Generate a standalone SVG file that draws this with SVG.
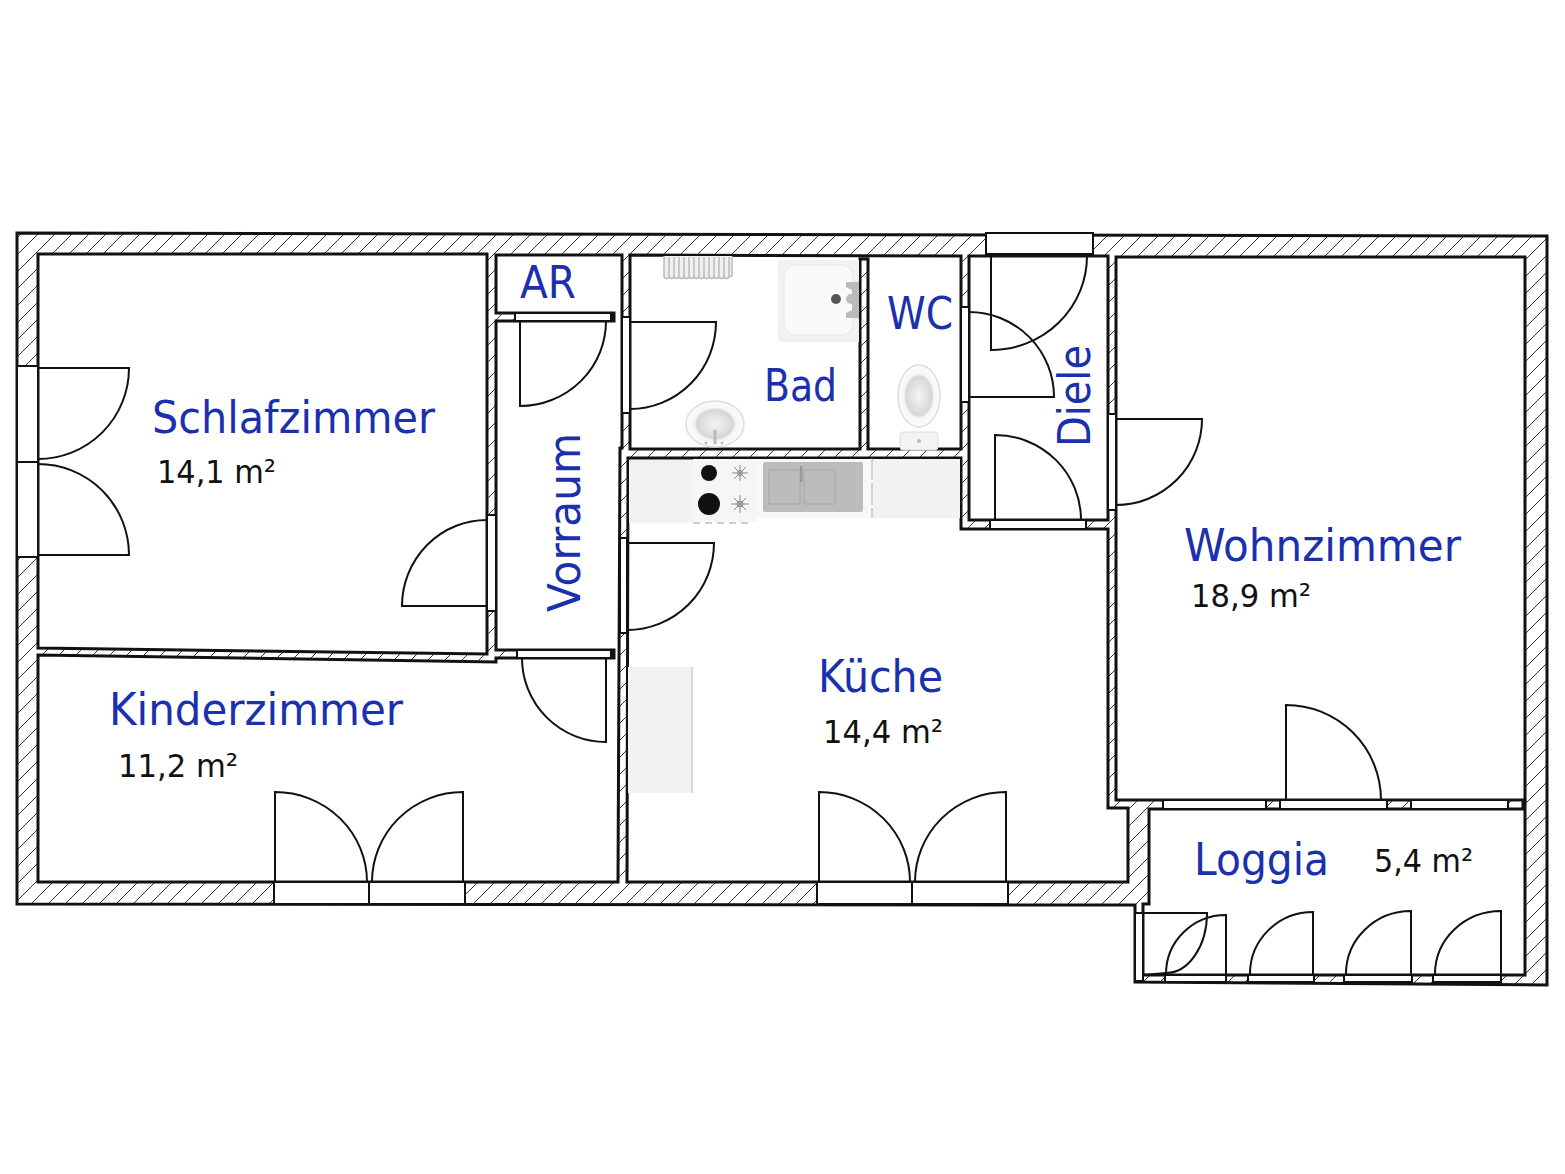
<svg xmlns="http://www.w3.org/2000/svg" width="1565" height="1174" viewBox="0 0 1565 1174">
<style>
.room{fill:#fff;stroke:#111;stroke-width:3;stroke-linejoin:miter}
.open{fill:#fff;stroke:#111;stroke-width:2}
.door{fill:none;stroke:#111;stroke-width:2}
.name{font-family:"DejaVu Sans",sans-serif;font-size:44px;fill:#1a30ad}
.area{font-family:"DejaVu Sans",sans-serif;font-size:32px;fill:#111}
.unit{fill:#f2f2f2}
.fix{fill:#f0f0f0;stroke:#bbb;stroke-width:1.5}
</style>
<defs>
<pattern id="hatch" patternUnits="userSpaceOnUse" width="17" height="17">
<rect width="17" height="17" fill="#fff"/>
<path d="M-2 19L19-2M-2 2L2-2M15 19L19 15" stroke="#333" stroke-width="1" fill="none"/>
</pattern>
<radialGradient id="bowl"><stop offset="0" stop-color="#f4f4f4"/><stop offset=".4" stop-color="#e2e2e2"/><stop offset=".62" stop-color="#d6d6d6"/><stop offset=".72" stop-color="#f6f6f6"/><stop offset="1" stop-color="#fbfbfb"/></radialGradient>
</defs>
<rect width="1565" height="1174" fill="#fff"/>

<g id="walls">
<path d="M17 233L1547 236V985L1135 982V905L17 904Z" fill="url(#hatch)" stroke="#111" stroke-width="3"/>
</g>

<g id="rooms">
<path id="schlafzimmer" class="room" d="M38 254H487V654L38 648Z"/>
<path id="kinder-vorraum-ar" class="room" d="M496 255H622V448H620L618 882H38V655L496 662V658H614V650H496V321H614V313H496Z"/>
<path id="bad-wc" class="room" d="M630 255L961 256V449H868V259H860V449H630Z"/>
<path id="diele" class="room" d="M969 256H1108V520H969Z"/>
<path id="wohnzimmer" class="room" d="M1116 257H1525V800H1116Z"/>
<path id="kueche" class="room" d="M628 458H961V529H1108V808H1128V882H627Z"/>
<path id="loggia" class="room" d="M1149 809H1523V801H1525V975H1143V904H1149Z"/>
</g>

<g id="openings">
<rect class="open" x="17" y="366" width="21" height="96"/>
<rect class="open" x="17" y="462" width="21" height="95"/>
<rect class="open" x="274" y="882" width="95" height="22"/>
<rect class="open" x="369" y="882" width="96" height="22"/>
<rect class="open" x="817" y="882" width="95" height="22"/>
<rect class="open" x="912" y="882" width="96" height="22"/>
<rect class="open" x="986" y="233" width="107" height="21"/>
<path d="M990 255.500H1088" stroke="#111" stroke-width="3"/>
<rect class="open" x="487" y="515" width="9" height="96"/>
<rect class="open" x="515" y="313" width="96" height="8"/>
<rect x="611" y="313" width="3" height="8" fill="#111"/>
<rect class="open" x="517" y="650" width="94" height="8"/>
<rect x="611" y="650" width="3" height="8" fill="#111"/>
<rect class="open" x="622" y="317" width="8" height="96"/>
<rect class="open" x="620" y="538" width="7" height="95"/>
<rect class="open" x="961" y="307" width="8" height="95"/>
<rect class="open" x="1108" y="414" width="8" height="96"/>
<rect class="open" x="990" y="520" width="96" height="9"/>
<rect class="open" x="1163" y="800" width="103" height="9"/>
<rect class="open" x="1280" y="800" width="107" height="9"/>
<rect class="open" x="1411" y="800" width="97" height="9"/>
<rect class="open" x="1165" y="975" width="61" height="7"/>
<rect class="open" x="1248" y="975" width="66" height="7"/>
<rect class="open" x="1344" y="975" width="68" height="7"/>
<rect class="open" x="1433" y="975" width="68" height="7"/>
<rect class="open" x="1135" y="913" width="8" height="68"/>
</g>

<g id="fixtures">
<path id="radiator" class="fix" d="M664 256V276a2.500 2.500 0 0 0 5 0a2.500 2.500 0 0 0 5 0a2.500 2.500 0 0 0 5 0a2.500 2.500 0 0 0 5 0a2.500 2.500 0 0 0 5 0a2.500 2.500 0 0 0 5 0a2.500 2.500 0 0 0 5 0a2.500 2.500 0 0 0 5 0a2.500 2.500 0 0 0 5 0a2.500 2.500 0 0 0 5 0a2.500 2.500 0 0 0 5 0a2.500 2.500 0 0 0 5 0a2.500 2.500 0 0 0 5 0a2.500 2.500 0 0 0 3 0V256M669 257V276M674 257V276M679 257V276M684 257V276M689 257V276M694 257V276M699 257V276M704 257V276M709 257V276M714 257V276M719 257V276M724 257V276M729 257V276"/>
<g id="shower">
<rect class="unit" x="778" y="260" width="81" height="82"/>
<rect x="784" y="265" width="69" height="70" rx="11" fill="#fafafa" stroke="#e6e6e6"/>
<path d="M846 282H859V318H846V313L852 310V290L846 287Z" fill="#bbb"/>
<circle cx="851" cy="299" r="5" fill="#bbb"/>
<circle cx="836" cy="299" r="5" fill="#555"/>
</g>
<g id="sink">
<ellipse cx="715" cy="424" rx="29" ry="23" fill="url(#bowl)" stroke="#ddd" stroke-width="1.500"/>
<rect x="713.500" y="430" width="3" height="14" fill="#bbb"/>
<circle cx="706" cy="443" r="1.500" fill="#bbb"/><circle cx="722" cy="443" r="1.500" fill="#bbb"/>
</g>
<g id="toilet">
<ellipse cx="919" cy="396" rx="21" ry="31" fill="url(#bowl)" stroke="#ddd" stroke-width="1.500"/>
<rect x="900" y="432" width="38" height="18" rx="3" fill="#f3f3f3" stroke="#ddd"/>
<circle cx="919" cy="441" r="2" fill="#bbb"/>
</g>
<g id="kitchen">
<rect class="unit" x="629" y="460" width="64" height="63"/>
<rect x="693" y="459" width="64" height="63" fill="#f6f6f6"/>
<path d="M693 523H752" stroke="#999" stroke-dasharray="7 5" fill="none"/>
<circle cx="709" cy="473" r="8" fill="#111"/>
<circle cx="709" cy="504" r="11" fill="#111"/>
<g stroke="#888" fill="none"><circle cx="740" cy="473" r="2.500"/><path d="M732 473H748M740 465V481M734 467L746 479M746 467L734 479"/><circle cx="740" cy="504" r="3"/><path d="M731 504H749M740 495V513M734 498L746 510M746 498L734 510"/></g>
<rect x="757" y="459" width="115" height="59" fill="#f8f8f8"/>
<rect x="763" y="462" width="100" height="50" rx="2" fill="#bcbcbc"/>
<path d="M769 470H800V504H769ZM804 470H835V504H804Z" fill="none" stroke="#a6a6a6"/>
<rect x="800" y="466" width="2.500" height="16" fill="#999"/>
<path d="M872 458V518" stroke="#aaa" stroke-dasharray="22 3"/>
<rect class="unit" x="873" y="459" width="87" height="59"/>
</g>
<g id="table">
<rect class="unit" x="628" y="667" width="64" height="126"/>
<path d="M692 667V793" stroke="#ccc" stroke-width="1.500"/>
</g>
</g>

<g id="doors">
<path class="door" d="M38 368H129A91 91 0 0 1 38 459"/>
<path class="door" d="M38 555H129A91 91 0 0 0 38 464"/>
<path class="door" d="M487 606H402A85 86 0 0 1 487 520"/>
<path class="door" d="M520 321V406A86 85 0 0 0 606 321"/>
<path class="door" d="M630 322H716A86 87 0 0 1 630 409"/>
<path class="door" d="M627 543H714A87 87 0 0 1 627 630"/>
<path class="door" d="M606 658V742A84 84 0 0 1 522 658"/>
<path class="door" d="M275 882V792A92 90 0 0 1 367 882"/>
<path class="door" d="M463 882V792A91 90 0 0 0 372 882"/>
<path class="door" d="M819 882V792A91 90 0 0 1 910 882"/>
<path class="door" d="M1006 882V792A91 90 0 0 0 915 882"/>
<path class="door" d="M991 256V350A96 94 0 0 0 1087 256"/>
<path class="door" d="M969 397H1054A85 85 0 0 0 969 312"/>
<path class="door" d="M995 520V435A86 85 0 0 1 1081 520"/>
<path class="door" d="M1116 419H1202A86 86 0 0 1 1116 505"/>
<path class="door" d="M1286 800V705A95 95 0 0 1 1381 800"/>
<path class="door" d="M1143 913H1207A41 60 0 0 1 1166 973"/>
<path class="door" d="M1226 974V915A60 59 0 0 0 1166 974"/>
<path class="door" d="M1143 975L1166 973"/>
<path class="door" d="M1313 974V912A63 62 0 0 0 1250 974"/>
<path class="door" d="M1411 974V911A65 63 0 0 0 1346 974"/>
<path class="door" d="M1501 974V911A66 63 0 0 0 1435 974"/>
</g>

<g id="labels">
<text class="name" x="152" y="433" textLength="283" lengthAdjust="spacingAndGlyphs">Schlafzimmer</text>
<text class="area" x="157" y="483" textLength="119" lengthAdjust="spacingAndGlyphs">14,1 m²</text>
<text class="name" x="109" y="725" textLength="294" lengthAdjust="spacingAndGlyphs">Kinderzimmer</text>
<text class="area" x="118" y="777" textLength="120" lengthAdjust="spacingAndGlyphs">11,2 m²</text>
<text class="name" x="1184" y="561" textLength="277" lengthAdjust="spacingAndGlyphs">Wohnzimmer</text>
<text class="area" x="1191" y="607" textLength="120" lengthAdjust="spacingAndGlyphs">18,9 m²</text>
<text class="name" x="818" y="692" textLength="125" lengthAdjust="spacingAndGlyphs">Küche</text>
<text class="area" x="823" y="743" textLength="120" lengthAdjust="spacingAndGlyphs">14,4 m²</text>
<text class="name" x="1194" y="875" textLength="135" lengthAdjust="spacingAndGlyphs">Loggia</text>
<text class="area" x="1374" y="872" textLength="99" lengthAdjust="spacingAndGlyphs">5,4 m²</text>
<text class="name" x="520" y="298" textLength="56" lengthAdjust="spacingAndGlyphs">AR</text>
<text class="name" x="764" y="401" textLength="73" lengthAdjust="spacingAndGlyphs">Bad</text>
<text class="name" x="887" y="329" textLength="66" lengthAdjust="spacingAndGlyphs">WC</text>
<text class="name" transform="translate(580 612) rotate(-90)" textLength="179" lengthAdjust="spacingAndGlyphs">Vorraum</text>
<text class="name" transform="translate(1090 447) rotate(-90)" textLength="102" lengthAdjust="spacingAndGlyphs">Diele</text>
</g>
</svg>
